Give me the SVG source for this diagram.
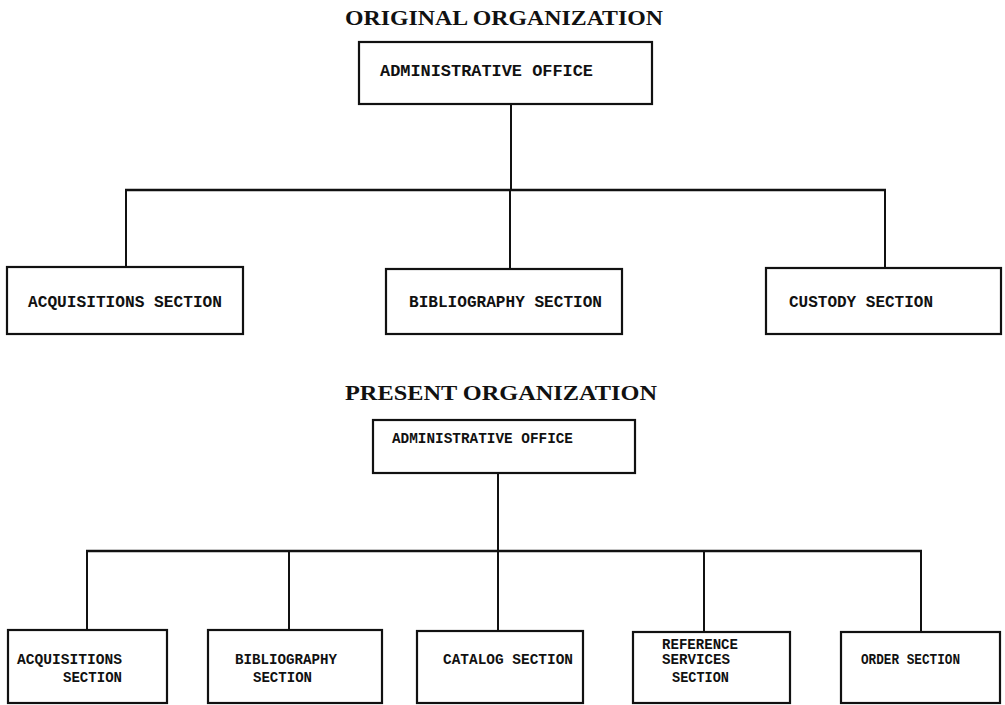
<svg xmlns="http://www.w3.org/2000/svg" width="1005" height="705" viewBox="0 0 1005 705">
<style>
.bg{fill:#fff}
.box{fill:#fff;stroke:#111;stroke-width:2.2}
.bar{fill:none;stroke:#111;stroke-width:2.6}
.ln{fill:none;stroke:#111;stroke-width:2}
.title{font-family:"Liberation Serif","Times New Roman",serif;font-weight:bold;font-size:22px;fill:#111}
.t1{font-family:"Liberation Mono","Courier New",monospace;font-weight:bold;font-size:16px;fill:#111}
.t2{font-family:"Liberation Mono","Courier New",monospace;font-weight:bold;font-size:14px;fill:#111}
</style>
<rect class="bg" x="0" y="0" width="1005" height="705"/>
<text class="title" x="345" y="25" textLength="318" lengthAdjust="spacingAndGlyphs">ORIGINAL ORGANIZATION</text>
<text class="title" x="345" y="400" textLength="312" lengthAdjust="spacingAndGlyphs">PRESENT ORGANIZATION</text>
<g id="connectors">
<path class="ln" d="M511 104 V190"/>
<path class="bar" d="M125 190 H886"/>
<path class="ln" d="M126 190 V268 M510 190 V269 M885 190 V268"/>
<path class="ln" d="M498 473 V551"/>
<path class="bar" d="M86 551 H922"/>
<path class="ln" d="M87 551 V631 M289 551 V631 M498 551 V631 M704 551 V633 M921 551 V633"/>
</g>
<g id="orig-admin"><rect class="box" x="359" y="42" width="293" height="62"/><text class="t1" x="380" y="76" textLength="213" lengthAdjust="spacingAndGlyphs">ADMINISTRATIVE OFFICE</text></g>
<g id="orig-acq"><rect class="box" x="7" y="267" width="236" height="67"/><text class="t1" x="28" y="307" textLength="194" lengthAdjust="spacingAndGlyphs">ACQUISITIONS SECTION</text></g>
<g id="orig-bib"><rect class="box" x="386" y="269" width="236" height="65"/><text class="t1" x="409" y="307" textLength="193" lengthAdjust="spacingAndGlyphs">BIBLIOGRAPHY SECTION</text></g>
<g id="orig-cust"><rect class="box" x="766" y="268" width="235" height="66"/><text class="t1" x="789" y="307" textLength="144" lengthAdjust="spacingAndGlyphs">CUSTODY SECTION</text></g>
<g id="pres-admin"><rect class="box" x="373" y="420" width="262" height="53"/><text class="t2" x="392" y="443" textLength="181" lengthAdjust="spacingAndGlyphs">ADMINISTRATIVE OFFICE</text></g>
<g id="pres-acq"><rect class="box" x="8" y="630" width="159" height="73"/><text class="t2" x="17" y="664" textLength="105" lengthAdjust="spacingAndGlyphs">ACQUISITIONS</text><text class="t2" x="63" y="682" textLength="59" lengthAdjust="spacingAndGlyphs">SECTION</text></g>
<g id="pres-bib"><rect class="box" x="208" y="630" width="174" height="73"/><text class="t2" x="235" y="664" textLength="102" lengthAdjust="spacingAndGlyphs">BIBLIOGRAPHY</text><text class="t2" x="253" y="682" textLength="59" lengthAdjust="spacingAndGlyphs">SECTION</text></g>
<g id="pres-cat"><rect class="box" x="417" y="631" width="166" height="72"/><text class="t2" x="443" y="664" textLength="130" lengthAdjust="spacingAndGlyphs">CATALOG SECTION</text></g>
<g id="pres-ref"><rect class="box" x="633" y="632" width="157" height="71"/><text class="t2" x="662" y="649" textLength="76" lengthAdjust="spacingAndGlyphs">REFERENCE</text><text class="t2" x="662" y="664" textLength="68" lengthAdjust="spacingAndGlyphs">SERVICES</text><text class="t2" x="672" y="682" textLength="57" lengthAdjust="spacingAndGlyphs">SECTION</text></g>
<g id="pres-order"><rect class="box" x="841" y="632" width="159" height="71"/><text class="t2" x="861" y="664" textLength="99" lengthAdjust="spacingAndGlyphs">ORDER SECTION</text></g>
</svg>
